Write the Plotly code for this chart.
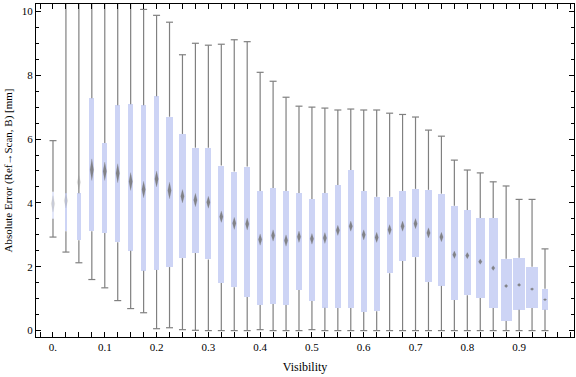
import plotly.graph_objects as go

# ---- data ----
visibility = [round(0.025 * i, 3) for i in range(39)]
whisker_min = [2.93, 2.46, 2.125, 1.60, 1.34, 0.94, 0.69, 0.56, 0.06, 0.09,
               0.03, 0.01, 0.0, 0.0, 0.0, 0.0, 0.03, 0.0, 0.0, 0.0,
               0.03, 0.0, 0.0, 0.0, 0.0, 0.0, 0.0, 0.0, 0.0, 0.0,
               0.0, 0.0, 0.0, 0.0, 0.0, 0.0, 0.0, 0.0, 0.0]
q1 = [3.50, 3.11, 2.83, 3.11, 3.06, 2.77, 2.50, 1.875, 1.90, 1.99,
      2.27, 2.43, 2.23, 1.49, 1.36, 1.05, 0.80, 0.83, 0.80, 1.27,
      0.93, 0.72, 0.71, 0.71, 0.58, 0.61, 1.80, 2.18, 2.30, 1.52,
      1.40, 0.96, 1.11, 1.02, 0.71, 0.30, 0.65, 0.71, 0.65]
median = [3.97, 4.07, 4.65, 5.04, 4.99, 4.93, 4.67, 4.42, 4.75, 4.39,
          4.21, 4.09, 4.02, 3.57, 3.36, 3.34, 2.85, 2.98, 2.82, 2.94,
          2.875, 2.90, 3.14, 3.27, 3.00, 2.92, 3.16, 3.27, 3.35, 3.06,
          2.93, 2.375, 2.35, 2.16, 1.96, 1.40, 1.43, 1.30, 0.97]
q3 = [4.35, 4.30, 4.30, 7.28, 5.875, 7.06, 7.09, 7.06, 7.34, 6.70,
      6.16, 5.73, 5.73, 5.17, 4.98, 5.14, 4.375, 4.47, 4.375, 4.31,
      4.125, 4.31, 4.56, 5.03, 4.375, 4.19, 4.19, 4.375, 4.44, 4.41,
      4.29, 3.91, 3.78, 3.53, 3.53, 2.25, 2.28, 2.00, 1.31]
whisker_max = [5.95, 12.0, 12.0, 12.0, 12.0, 12.0, 12.0, 10.06, 9.875, 9.66,
               8.64, 9.00, 8.94, 8.97, 9.11, 9.05, 8.09, 7.81, 7.31, 7.03,
               7.00, 6.97, 6.91, 6.94, 6.91, 6.91, 6.81, 6.77, 6.69, 6.28,
               6.09, 5.34, 5.03, 4.94, 4.66, 4.53, 4.11, 4.11, 2.56]
median_ci = [0.26, 0.23, 0.21, 0.34, 0.29, 0.30, 0.28, 0.26, 0.25, 0.26,
             0.21, 0.21, 0.19, 0.18, 0.19, 0.19, 0.18, 0.18, 0.18, 0.18,
             0.17, 0.17, 0.16, 0.16, 0.16, 0.16, 0.16, 0.16, 0.16, 0.16,
             0.15, 0.12, 0.10, 0.085, 0.075, 0.055, 0.05, 0.045, 0.035]
sample_weight = [0.22, 0.45, 0.66, 0.80, 0.80, 0.80, 0.80, 0.85, 0.91, 1.0,
                 1.0, 1.0, 1.0, 1.0, 1.0, 1.0, 1.0, 1.0, 1.0, 1.0,
                 1.0, 1.0, 1.0, 1.0, 1.0, 1.0, 1.0, 1.0, 1.0, 1.0,
                 1.18, 1.18, 1.18, 1.5, 1.5, 1.82, 1.82, 1.82, 1.02]
xtick_vals = [0.0, 0.1, 0.2, 0.3, 0.4, 0.5, 0.6, 0.7, 0.8, 0.9]
xtick_text = ["0.", "0.1", "0.2", "0.3", "0.4", "0.5", "0.6", "0.7", "0.8", "0.9"]
ytick_vals = [0, 2, 4, 6, 8, 10]
n_sparse = 3  # first bins with few samples (drawn faint)

# ---- style ----
BOX_COLOR = "rgb(205,212,245)"
GRAY = "rgb(128,128,128)"
FONT = "Liberation Serif"
BASE_W = 0.012      # box width in x units for weight 1
DIAM_HW = 0.0034    # diamond half width in x units

fig = go.Figure()

# whisker segments (outside the box)
wx, wy = [], []
for x, lo, a, b, hi in zip(visibility, whisker_min, q1, q3, whisker_max):
    wx += [x, x, None, x, x, None]
    wy += [lo, a, None, b, hi, None]
fig.add_trace(go.Scatter(x=wx, y=wy, mode="lines",
                         line=dict(color=GRAY, width=1.2),
                         hoverinfo="skip", showlegend=False))
# caps
fig.add_trace(go.Scatter(x=visibility + visibility, y=whisker_min + whisker_max,
                         mode="markers",
                         marker=dict(symbol="line-ew", size=5,
                                     line=dict(color=GRAY, width=1.2)),
                         hoverinfo="skip", showlegend=False))

# boxes
box_colors = ["rgb(228,232,250)"] + [BOX_COLOR] * (len(visibility) - 1)
fig.add_trace(go.Bar(x=visibility, base=q1,
                     y=[b - a for a, b in zip(q1, q3)],
                     width=[BASE_W * w for w in sample_weight],
                     marker=dict(color=box_colors, line=dict(width=0)),
                     hoverinfo="skip", showlegend=False))


def diamonds(idx):
    dx, dy = [], []
    for i in idx:
        x, m, h = visibility[i], median[i], median_ci[i]
        dx += [x - DIAM_HW, x, x + DIAM_HW, x, x - DIAM_HW, None]
        dy += [m, m + h, m, m - h, m, None]
    return dx, dy


dx, dy = diamonds(range(n_sparse))
fig.add_trace(go.Scatter(x=dx, y=dy, mode="lines", fill="toself",
                         fillcolor="rgba(150,150,150,0.35)",
                         line=dict(color="rgba(150,150,150,0.2)", width=0.5),
                         hoverinfo="skip", showlegend=False))
dx, dy = diamonds(range(n_sparse, len(visibility)))
fig.add_trace(go.Scatter(x=dx, y=dy, mode="lines", fill="toself",
                         fillcolor="rgba(115,115,115,0.85)",
                         line=dict(color="rgba(128,128,128,0.4)", width=0.5),
                         hoverinfo="skip", showlegend=False))

axis_common = dict(showline=True, linecolor="black", linewidth=1,
                   mirror="ticks", ticks="inside", tickcolor="black",
                   showgrid=False, zeroline=False, automargin=False,
                   tickfont=dict(family=FONT, size=11, color="black"))

fig.update_layout(
    width=576, height=377,
    margin=dict(l=36, r=2, t=4, b=40),
    paper_bgcolor="white", plot_bgcolor="white",
    bargap=0,
    xaxis=dict(range=[-0.0328, 1.006], tickvals=xtick_vals, ticktext=xtick_text,
               ticklen=5, tickwidth=1,
               minor=dict(dtick=0.025, tick0=0, ticks="inside", ticklen=5,
                          tickcolor="black", tickwidth=1),
               title=dict(text="Visibility", font=dict(family=FONT, size=12, color="black"),
                          standoff=10),
               **axis_common),
    yaxis=dict(range=[-0.2, 10.23], tickvals=ytick_vals, ticklen=5, tickwidth=1,
               minor=dict(dtick=0.5, tick0=0, ticks="inside", ticklen=3,
                          tickcolor="black", tickwidth=1),
               title=dict(text="Absolute Error (Ref\u2192Scan, B) [mm]",
                          font=dict(family=FONT, size=11, color="black"), standoff=6),
               **axis_common),
)

fig.write_html("out.html",
               config={"displayModeBar": False},
               post_script="document.body.style.margin='0';"
                           "document.body.style.overflow='hidden';")
